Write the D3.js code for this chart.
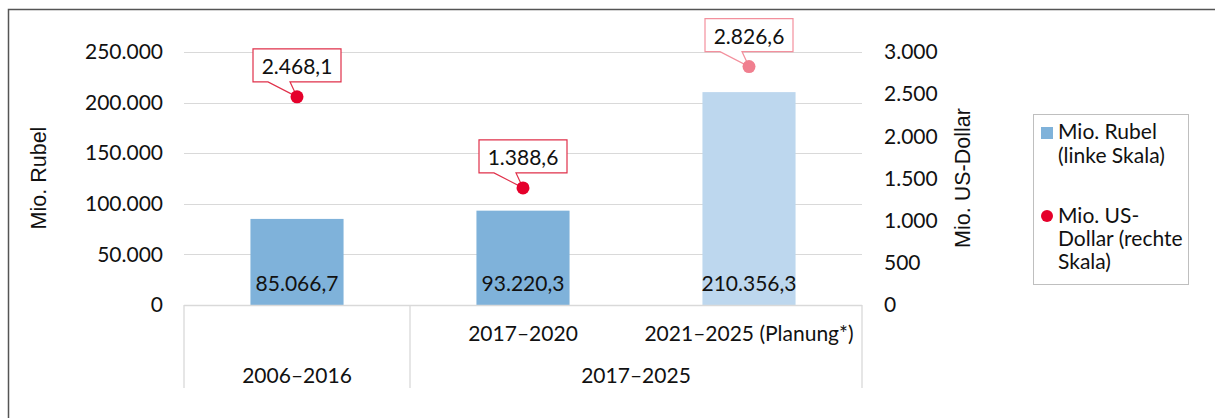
<!DOCTYPE html>
<html><head><meta charset="utf-8">
<script src="https://cdn.jsdelivr.net/npm/d3@7"></script>
<style>
body{margin:0;background:#fff;}
svg{display:block;}
text{font-family:Lato,"Open Sans",sans-serif;fill:#111;}
</style></head>
<body><svg id="c" width="1215" height="418"></svg>
<script>
const categories = ["2006–2016", "2017–2020", "2021–2025 (Planung*)"];
const upperLabels = ["", "2017–2020", "2021–2025 (Planung*)"];
const groups = [{label:"2006–2016", from:0, to:0}, {label:"2017–2025", from:1, to:2}];
const rubel = [85066.7, 93220.3, 210356.3];
const rubelLabels = ["85.066,7", "93.220,3", "210.356,3"];
const usd = [2468.1, 1388.6, 2826.6];
const usdLabels = ["2.468,1", "1.388,6", "2.826,6"];
const planned = [false, false, true];
const leftTicks = [0, 50000, 100000, 150000, 200000, 250000];
const rightTicks = [0, 500, 1000, 1500, 2000, 2500, 3000];

const svg = d3.select("#c");
const fmt = d3.formatLocale({decimal:",", thousands:".", grouping:[3], currency:["",""]}).format(",");

// outer frame (cropped)
svg.append("path").attr("d","M8.5,418 V9.5 H1215").attr("fill","none").attr("stroke","#555").attr("stroke-width",1.5);

const x0 = 184, x1 = 862, yTop = 52, yBot = 305;
const x = d3.scaleBand().domain(d3.range(categories.length)).range([x0, x1]).padding(0);
const y = d3.scaleLinear().domain([0, 250000]).range([yBot, yTop]);
const y2 = d3.scaleLinear().domain([0, 3000]).range([yBot, yTop]);
const fs = 21;

// gridlines
svg.append("g").selectAll("line").data(leftTicks.filter(d=>d>0)).join("line")
  .attr("x1",x0).attr("x2",x1).attr("y1",d=>Math.round(y(d))+0.5).attr("y2",d=>Math.round(y(d))+0.5)
  .attr("stroke","#d9d9d9").attr("stroke-width",1);

// left axis
const ly = svg.append("g").attr("transform",`translate(${x0},0)`)
  .call(d3.axisLeft(y).tickValues(leftTicks).tickFormat(fmt).tickSize(0).tickPadding(21));
ly.select(".domain").remove();
ly.selectAll("text").style("font-size",fs+"px").style("font-family","Lato").attr("fill","#111");

// right axis
const ry = svg.append("g").attr("transform",`translate(${x1},0)`)
  .call(d3.axisRight(y2).tickValues(rightTicks).tickFormat(fmt).tickSize(0).tickPadding(22));
ry.select(".domain").remove();
ry.selectAll("text").style("font-size",fs+"px").style("font-family","Lato").attr("fill","#111");

// axis titles
svg.append("text").attr("transform",`translate(46,178) rotate(-90)`).attr("text-anchor","middle")
  .style("font-family","'Liberation Sans',Arial,sans-serif").style("font-size","21.5px").text("Mio. Rubel");
svg.append("text").attr("transform",`translate(970,178) rotate(-90)`).attr("text-anchor","middle")
  .style("font-family","'Liberation Sans',Arial,sans-serif").style("font-size","21.5px").text("Mio. US-Dollar");

// bars
const bw = x.bandwidth()*0.412;
const bars = svg.append("g");
bars.selectAll("rect").data(rubel).join("rect")
  .attr("x",(d,i)=>x(i)+x.bandwidth()/2-bw/2).attr("width",bw)
  .attr("y",d=>y(d)).attr("height",d=>yBot-y(d))
  .attr("fill",(d,i)=>planned[i]?"#bdd7ee":"#7fb2da");
bars.selectAll("text").data(rubelLabels).join("text")
  .attr("x",(d,i)=>x(i)+x.bandwidth()/2).attr("y",yBot-14)
  .attr("text-anchor","middle").style("font-size",fs+"px").text(d=>d);

// category axis
const ax = svg.append("g").attr("stroke","#d9d9d9").attr("stroke-width",1.3);
ax.append("line").attr("x1",x0).attr("x2",x1).attr("y1",yBot+0.5).attr("y2",yBot+0.5);
const vlines = [x0, x(1), x1];
ax.selectAll("line.v").data(vlines).join("line").attr("class","v")
  .attr("x1",d=>d).attr("x2",d=>d).attr("y1",yBot).attr("y2",388);
svg.append("g").selectAll("text").data(upperLabels).join("text")
  .attr("x",(d,i)=>x(i)+x.bandwidth()/2).attr("y",341)
  .attr("text-anchor","middle").style("font-size",fs+"px").text(d=>d);
svg.append("g").selectAll("text").data(groups).join("text")
  .attr("x",d=>(x(d.from)+x(d.to)+x.bandwidth())/2).attr("y",383)
  .attr("text-anchor","middle").style("font-size",fs+"px").text(d=>d.label);

// dots and callouts
const pts = svg.append("g");
usd.forEach((v,i)=>{
  const cx = x(i)+x.bandwidth()/2, cy = y2(v);
  const col = planned[i] ? "#f07f8f" : "#e5002b";
  const stroke = planned[i] ? "#f3909d" : "#e0304a";
  const bwid = 88, bh = 33;
  const bx = cx - bwid/2, by = cy - 15 - bh;
  const bb = by + bh;
  pts.append("path")
    .attr("d",`M${bx},${by} H${bx+bwid} V${bb} H${cx-7} L${cx},${cy} L${cx-29},${bb} H${bx} Z`)
    .attr("fill","#fff").attr("stroke",stroke).attr("stroke-width",1.2);
  pts.append("text").attr("x",cx).attr("y",by+25).attr("text-anchor","middle")
    .style("font-size",fs+"px").text(usdLabels[i]);
  pts.append("circle").attr("cx",cx).attr("cy",cy).attr("r",6.5).attr("fill",col);
});

// legend
const lg = svg.append("g");
lg.append("rect").attr("x",1033.5).attr("y",114.5).attr("width",155).attr("height",170)
  .attr("fill","#fff").attr("stroke","#bfbfbf").attr("stroke-width",1);
lg.append("rect").attr("x",1041).attr("y",127).attr("width",12).attr("height",12).attr("fill","#7fb2da");
lg.append("circle").attr("cx",1047).attr("cy",216).attr("r",6).attr("fill","#e5002b");
const lt1 = ["Mio. Rubel","(linke Skala)"], lt2 = ["Mio. US-","Dollar (rechte","Skala)"];
lg.append("text").style("font-size",fs+"px").selectAll("tspan").data(lt1).join("tspan")
  .attr("x",1058).attr("y",(d,i)=>139+i*24).text(d=>d);
lg.append("text").style("font-size",fs+"px").selectAll("tspan").data(lt2).join("tspan")
  .attr("x",1058).attr("y",(d,i)=>223+i*23).text(d=>d);
</script></body></html>
